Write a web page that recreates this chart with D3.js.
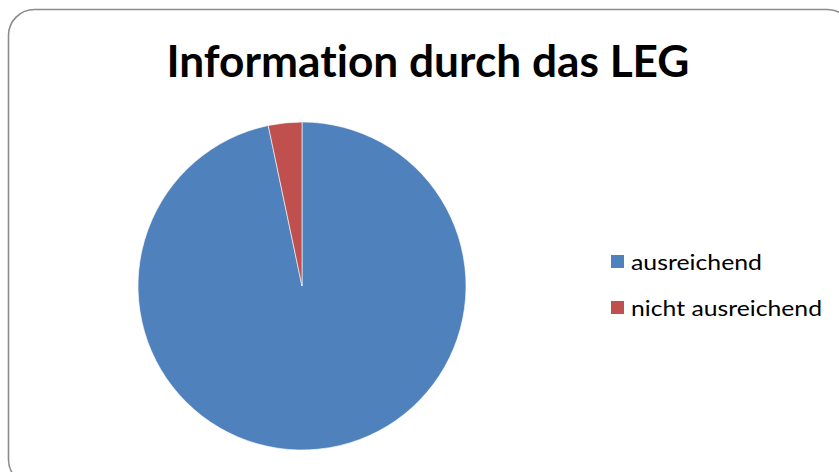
<!DOCTYPE html>
<html>
<head>
<meta charset="utf-8">
<script src="https://cdn.jsdelivr.net/npm/d3@7"></script>
<style>
  body { margin: 0; background: #fff; }
  svg { display: block; }
  text { font-variant-ligatures: none; }
</style>
</head>
<body>
<div id="chart"></div>
<script>
// data
const categories = ["ausreichend", "nicht ausreichend"];
const values = [96.7, 3.3];
const colors = ["#4F81BD", "#C0504D"];
const title = "Information durch das LEG";

const W = 839, H = 472;
const svg = d3.select("#chart").append("svg")
    .attr("width", W)
    .attr("height", H);

// chart frame (rounded, runs off the right/bottom edge)
svg.append("rect")
    .attr("x", 8.5).attr("y", 9.5)
    .attr("width", 845).attr("height", 476)
    .attr("rx", 26).attr("ry", 26)
    .style("fill", "#fff")
    .style("stroke", "#8c8c8c")
    .style("stroke-width", 1.6);

// title
svg.append("text")
    .attr("x", 428).attr("y", 77)
    .attr("text-anchor", "middle")
    .attr("textLength", 523)
    .attr("lengthAdjust", "spacingAndGlyphs")
    .style("font-family", "Lato, 'Open Sans', sans-serif")
    .style("font-weight", "bold")
    .style("font-size", "44px")
    .style("fill", "#000")
    .text(title);

// pie
const cx = 302, cy = 286, r = 164;
const pie = d3.pie().sort(null).value(d => d.value);
const arc = d3.arc().innerRadius(0).outerRadius(r);
const data = categories.map((c, i) => ({ name: c, value: values[i], color: colors[i] }));

svg.append("g")
    .attr("transform", `translate(${cx},${cy})`)
    .selectAll("path")
    .data(pie(data))
    .enter()
    .append("path")
    .attr("d", arc)
    .style("fill", d => d.data.color)
    .style("stroke", "#fff")
    .style("stroke-width", 0.6);

// legend
const legendY = d3.scalePoint().domain(categories).range([262, 308]);
const legendW = [131, 191];
const lg = svg.append("g").selectAll("g")
    .data(data)
    .enter()
    .append("g")
    .attr("transform", d => `translate(611,${legendY(d.name)})`);

lg.append("rect")
    .attr("x", 0).attr("y", -7)
    .attr("width", 13).attr("height", 13)
    .style("fill", d => d.color);

lg.append("text")
    .attr("x", 20).attr("y", 8)
    .attr("textLength", (d, i) => legendW[i])
    .attr("lengthAdjust", "spacingAndGlyphs")
    .style("font-family", "Lato, 'Open Sans', sans-serif")
    .style("font-size", "21px")
    .style("fill", "#000")
    .text(d => d.name);
</script>
</body>
</html>
